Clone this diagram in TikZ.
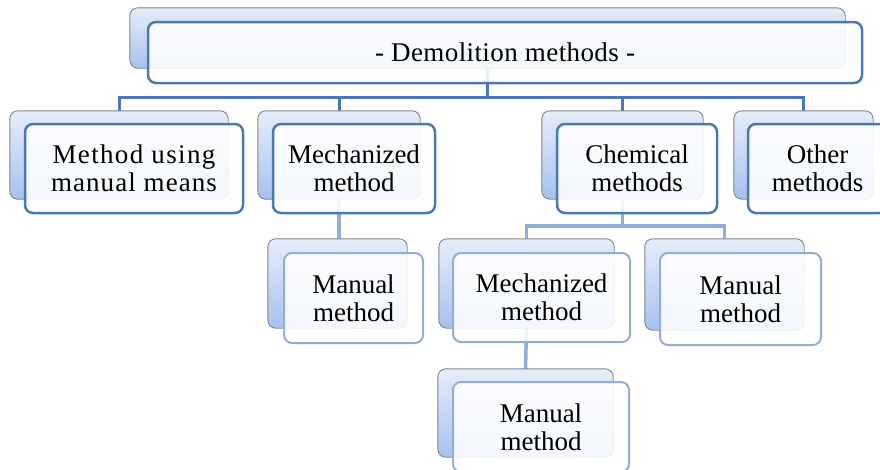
\documentclass[tikz,border=0pt]{standalone}
\usepackage{fontspec}
\setmainfont{Liberation Serif}
\definecolor{darkln}{HTML}{4A78B4}
\definecolor{lightln}{HTML}{93AED6}
\definecolor{backtop}{HTML}{E6EDFA}
\definecolor{backbot}{HTML}{A6C1EE}
\definecolor{backedge}{HTML}{7F8590}
\tikzset{
  backbox/.style={rectangle, rounded corners=8pt, draw=backedge, line width=0.9pt,
    top color=backtop, bottom color=backbot, inner sep=0pt},
  frontbox/.style={rectangle, rounded corners=8pt, fill=white, fill opacity=0.88, text opacity=1,
    inner sep=0pt, align=center, font=\fontsize{27}{28}\selectfont},
  lvlA/.style={frontbox, draw=darkln, line width=2.5pt},
  lvlB/.style={frontbox, draw=lightln, line width=2pt},
  connA/.style={draw=darkln, line width=3pt},
  connB/.style={draw=lightln, line width=3.5pt},
}
\begin{document}
\begin{tikzpicture}[x=1pt,y=-1pt]
\useasboundingbox (0,0) rectangle (880,469);
\begin{scope}
\clip (0,0) rectangle (880,469);
% back boxes positions
\path
  node[minimum width=715, minimum height=60] (tb) at (487.5,38) {}
  node[minimum width=218, minimum height=88] (n1b) at (119,155) {}
  node[minimum width=162, minimum height=88] (n2b) at (339,155) {}
  node[minimum width=161, minimum height=88] (n3b) at (622.5,155) {}
  node[minimum width=139, minimum height=88] (n4b) at (803.5,155) {}
  node[minimum width=139, minimum height=89] (mb) at (337.5,283.5) {}
  node[minimum width=175, minimum height=89] (ab) at (526.5,283.5) {}
  node[minimum width=159, minimum height=91] (bb) at (724.5,284.5) {}
  node[minimum width=175, minimum height=88] (cb) at (525.5,413) {};
% connectors
\draw[connA] (tb.south) -- ++(0,29) -| (n1b.north);
\draw[connA] (tb.south) -- ++(0,29) -| (n2b.north);
\draw[connA] (tb.south) -- ++(0,29) -| (n3b.north);
\draw[connA] (tb.south) -- ++(0,29) -| (n4b.north);
\draw[connB] (n2b.south) -- (n2b.south |- mb.north);
\draw[connB] (n3b.south) -- ++(0,27) -| (ab.north);
\draw[connB] (n3b.south) -- ++(0,27) -| (bb.north);
\draw[connB] (ab.south) -- (cb.north);
% back shapes
\foreach \b in {tb,n1b,n2b,n3b,n4b,mb,ab,bb,cb}{
  \path[backbox, rounded corners=8pt] (\b.north west) rectangle (\b.south east);
}
% front boxes
\node[lvlA, minimum width=714, minimum height=61] (top) at (505,52.5) {\addfontfeature{LetterSpace=1.5}- Demolition methods -};
\node[lvlA, minimum width=218, minimum height=89] (n1) at (134,168.5) {\addfontfeature{LetterSpace=5}Method using\\\addfontfeature{LetterSpace=4}manual means};
\node[lvlA, minimum width=162, minimum height=89] (n2) at (354,168.5) {Mechanized\\method};
\node[lvlA, minimum width=160, minimum height=89] (n3) at (637,168.5) {Chemical\\methods};
\node[lvlA, minimum width=139, minimum height=89] (n4) at (817.5,168.5) {Other\\methods};
\node[lvlB, minimum width=139, minimum height=90] (m) at (353.5,298) {Manual\\method};
\node[lvlB, minimum width=177, minimum height=89] (a) at (541.5,297.5) {Mechanized\\method};
\node[lvlB, minimum width=161, minimum height=92] (b) at (740.5,299) {Manual\\method};
\node[lvlB, minimum width=176, minimum height=90] (c) at (541,427) {Manual\\method};
\end{scope}
\end{tikzpicture}
\end{document}
